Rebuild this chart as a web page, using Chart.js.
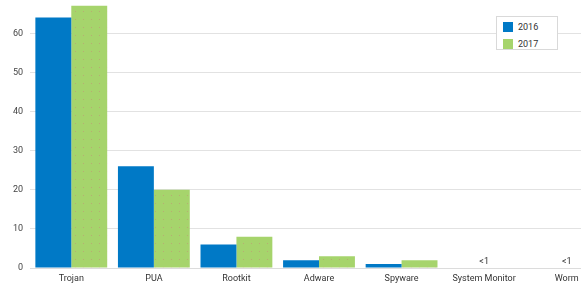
<!DOCTYPE html>
<html>
<head>
<meta charset="utf-8">
<script src="https://cdn.jsdelivr.net/npm/chart.js@4.4.1/dist/chart.umd.min.js"></script>
<style>
  html, body { margin: 0; padding: 0; background: #fff; overflow: hidden; }
  #wrap { position: relative; width: 608px; height: 290px; }
  #legend {
    position: absolute; left: 496px; top: 16px; width: 60px; height: 32px;
    border: 1px solid #d9d9d9; background: #fff;
    font: 9px Roboto, sans-serif; color: #333;
  }
  #legend .item { position: absolute; left: 6px; height: 11px; line-height: 11px; }
  #legend .sw { display: inline-block; width: 10px; height: 10px; vertical-align: top; margin-right: 5px; }
</style>
</head>
<body>
<div id="wrap">
  <canvas id="chart"></canvas>
  <div id="legend"></div>
</div>
<script>
const categories = ['Trojan', 'PUA', 'Rootkit', 'Adware', 'Spyware', 'System Monitor', 'Worm'];
const values2016 = [64, 26, 6, 2, 1, 0, 0];
const values2017 = [67, 20, 8, 3, 2, 0, 0];
const notes = ['', '', '', '', '', '<1', '<1'];
const seriesNames = ['2016', '2017'];
const yTicks = [0, 10, 20, 30, 40, 50, 60];

const blue = '#0079c6';
const green = '#a6d46c';

// dotted fill for the 2017 bars
function dotPattern() {
  const c = document.createElement('canvas');
  c.width = 8; c.height = 8;
  const g = c.getContext('2d');
  g.fillStyle = green;
  g.fillRect(0, 0, 8, 8);
  g.fillStyle = 'rgba(196,140,120,0.55)';
  g.fillRect(3, 3, 1, 1);
  return g.createPattern(c, 'repeat');
}

const notesPlugin = {
  id: 'notes',
  afterDatasetsDraw(chart) {
    const ctx = chart.ctx;
    const x = chart.scales.x, y = chart.scales.y;
    ctx.save();
    ctx.font = '9px Roboto, sans-serif';
    ctx.fillStyle = '#333';
    ctx.textAlign = 'center';
    ctx.textBaseline = 'bottom';
    notes.forEach((n, i) => {
      if (n) ctx.fillText(n, x.getPixelForValue(i), y.getPixelForValue(0) - 2);
    });
    ctx.restore();
  }
};

const chart = new Chart(document.getElementById('chart'), {
  type: 'bar',
  data: {
    labels: categories,
    datasets: [
      { label: seriesNames[0], data: values2016, backgroundColor: blue },
      { label: seriesNames[1], data: values2017, backgroundColor: dotPattern(), legendColor: green }
    ]
  },
  options: {
    responsive: true,
    maintainAspectRatio: false,
    animation: false,
    layout: { padding: 0 },
    datasets: { bar: { barPercentage: 1, categoryPercentage: 0.87 } },
    plugins: { legend: { display: false }, tooltip: { enabled: false } },
    scales: {
      x: {
        grid: { display: false, drawTicks: false },
        border: { color: '#dcdcdc', width: 1 },
        ticks: { color: '#333', font: { family: 'Roboto', size: 9 }, padding: 5, maxRotation: 0, autoSkip: false },
        afterFit(s) { s.height = 22; }
      },
      y: {
        min: 0,
        max: 68.5,
        grid: { color: '#e2e2e2', drawTicks: false },
        border: { display: false },
        ticks: { color: '#444', font: { family: 'Roboto', size: 9 }, padding: 7, includeBounds: false },
        afterBuildTicks(s) { s.ticks = yTicks.map(v => ({ value: v })); },
        afterFit(s) { s.width = 30; s.paddingTop = 0; s.paddingBottom = 0; }
      }
    }
  },
  plugins: [notesPlugin]
});

const legend = document.getElementById('legend');
chart.data.datasets.forEach((ds, i) => {
  const item = document.createElement('div');
  item.className = 'item';
  item.style.top = (5 + i * 17) + 'px';
  item.innerHTML = '<span class="sw" style="background:' + (ds.legendColor || ds.backgroundColor) + '"></span>' + ds.label;
  legend.appendChild(item);
});
</script>
</body>
</html>
